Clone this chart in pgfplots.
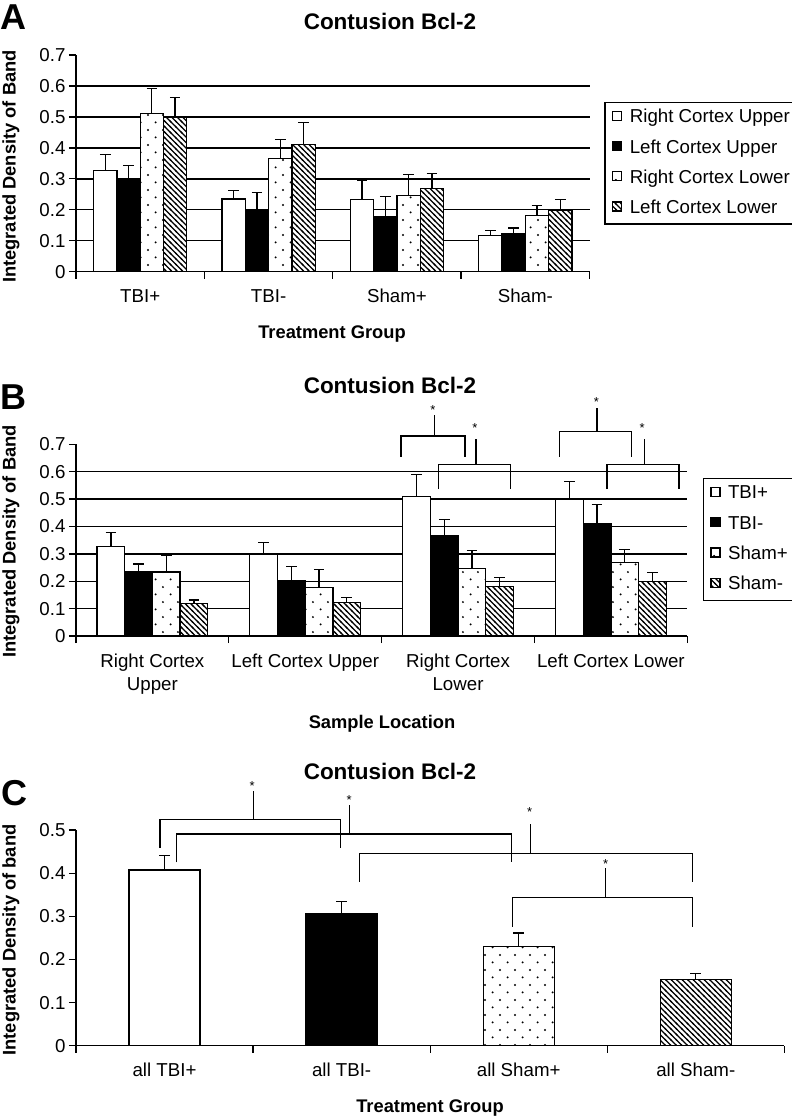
\documentclass[border=0pt]{standalone}
\usepackage{fontspec}
\setmainfont{Liberation Sans}
\usepackage{pgfplots}
\pgfplotsset{compat=1.18}
\usetikzlibrary{patterns}

\pgfdeclarepatternformonly{sparsedots}{\pgfqpoint{0bp}{0bp}}{\pgfqpoint{15.3bp}{15.3bp}}{\pgfqpoint{15.3bp}{15.3bp}}{%
  \pgfpathcircle{\pgfqpoint{3.8bp}{3.8bp}}{1.1bp}%
  \pgfpathcircle{\pgfqpoint{11.45bp}{11.45bp}}{1.1bp}%
  \pgfusepath{fill}}
\pgfdeclarepatternformonly{hatchnw}{\pgfqpoint{-1bp}{-1bp}}{\pgfqpoint{6.5bp}{6.5bp}}{\pgfqpoint{5.5bp}{5.5bp}}{%
  \pgfsetlinewidth{1.1bp}%
  \pgfpathmoveto{\pgfqpoint{-1bp}{6.5bp}}%
  \pgfpathlineto{\pgfqpoint{6.5bp}{-1bp}}%
  \pgfusepath{stroke}}

\newcommand\tfont{\fontsize{18.7bp}{23.3bp}\selectfont}
\newcommand\titlefont{\fontsize{22.5bp}{27bp}\selectfont\bfseries}
\newcommand\labfont{\fontsize{18.3bp}{22bp}\selectfont\bfseries}
\newcommand\letterfont{\fontsize{36bp}{40bp}\selectfont\bfseries}
\newcommand\starfont{\fontsize{13bp}{15bp}\selectfont}

\tikzset{
  brk/.style={line width=1.3bp, black},
  star/.style={font=\starfont, anchor=base, yshift=-7.5bp, inner sep=0},
}

\pgfplotsset{
  bcl/.style={
    scale only axis, axis lines*=left,
    axis line style={line width=1.4bp},
    xmin=-0.5, xmax=3.5, ymin=0,
    tick align=outside, major tick length=7bp, minor tick length=7bp,
    tick style={black, line width=1.3bp},
    xtick={0,1,2,3}, minor xtick={-0.5,0.5,1.5,2.5,3.5},
    major x tick style={draw=none},
    ticklabel style={font=\tfont},
    xticklabel style={yshift=-7bp, align=center},
    yticklabel style={/pgf/number format/fixed, /pgf/number format/precision=1},
    /pgf/number format/assume math mode=true,
    ybar=0pt,
    clip=false,
    error bars/y dir=plus, error bars/y explicit,
    error bars/error mark options={rotate=90, mark size=5.3bp, line width=1.3bp, black},
    error bars/error bar style={line width=1.3bp, black},
    legend cell align=left,
    legend style={draw=black, line width=1.3bp, font=\tfont, inner xsep=7bp, inner ysep=5bp,
      row sep=9.3bp, column sep=5.5bp,
      nodes={inner sep=2bp, text height=13.5bp, text depth=3.5bp}, anchor=north west},
  },
  gridA/.style={
    ytick={0,0.1,0.2,0.3,0.4,0.5,0.6,0.7},
    extra y ticks={0.1,0.2,0.3,0.4,0.5,0.6}, extra y tick labels={},
    extra y tick style={grid=major, major tick length=0pt, grid style={black, line width=1.4bp}},
  },
  sqleg/.style={legend image code/.code={\draw[##1] (0bp,-2.5bp) rectangle (9bp,6.5bp);}},
  s1/.style={draw=black, line width=1.3bp, fill=white, sqleg},
  s2/.style={draw=black, line width=1.3bp, fill=black, sqleg},
  s3/.style={draw=black, line width=1.3bp, fill=white, postaction={pattern=sparsedots}, sqleg},
  s4/.style={draw=black, line width=1.3bp, fill=white, postaction={pattern=hatchnw}, sqleg},
}

\begin{document}
\begin{tikzpicture}
\useasboundingbox (0,0) rectangle (792bp,-1117bp);

% ---------------- Panel A ----------------
\begin{axis}[bcl, gridA, at={(76bp,-271.7bp)}, anchor=south west,
  width=513.5bp, height=216.7bp, ymax=0.7, bar width=23.3bp,
  xticklabels={TBI+, TBI-, Sham+, Sham-},
  legend style={at={(1.029,0.785)}}]
\addplot[s1] coordinates {(0,0.326) +- (0,0.053) (1,0.235) +- (0,0.028) (2,0.234) +- (0,0.062) (3,0.118) +- (0,0.014)};
\addplot[s2] coordinates {(0,0.299) +- (0,0.043) (1,0.202) +- (0,0.053) (2,0.177) +- (0,0.065) (3,0.123) +- (0,0.018)};
\addplot[s3] coordinates {(0,0.510) +- (0,0.081) (1,0.365) +- (0,0.061) (2,0.246) +- (0,0.067) (3,0.182) +- (0,0.031)};
\addplot[s4] coordinates {(0,0.498) +- (0,0.065) (1,0.412) +- (0,0.069) (2,0.268) +- (0,0.049) (3,0.199) +- (0,0.034)};
\legend{Right Cortex Upper, Left Cortex Upper, Right Cortex Lower, Left Cortex Lower}
\end{axis}

% ---------------- Panel B ----------------
\begin{axis}[bcl, gridA, at={(76bp,-636bp)}, anchor=south west,
  width=611.3bp, height=191.7bp, ymax=0.7, bar width=27.7bp,
  xticklabels={{Right Cortex\\Upper}, {Left Cortex Upper}, {Right Cortex\\Lower}, {Left Cortex Lower}},
  legend style={at={(1.025,0.826)}}]
\addplot[s1] coordinates {(0,0.326) +- (0,0.053) (1,0.299) +- (0,0.043) (2,0.510) +- (0,0.081) (3,0.498) +- (0,0.065)};
\addplot[s2] coordinates {(0,0.235) +- (0,0.028) (1,0.202) +- (0,0.053) (2,0.365) +- (0,0.061) (3,0.412) +- (0,0.069)};
\addplot[s3] coordinates {(0,0.234) +- (0,0.062) (1,0.177) +- (0,0.065) (2,0.246) +- (0,0.067) (3,0.268) +- (0,0.049)};
\addplot[s4] coordinates {(0,0.118) +- (0,0.014) (1,0.123) +- (0,0.018) (2,0.182) +- (0,0.031) (3,0.199) +- (0,0.034)};
\legend{TBI+, TBI-, Sham+, Sham-}
\draw[brk] (1.627,0.655) -- (1.627,0.730) -- (2.046,0.730) -- (2.046,0.655);
\draw[brk] (1.845,0.730) -- (1.845,0.807);
\node[star] at (1.835,0.837) {*};
\draw[brk] (1.874,0.536) -- (1.874,0.627) -- (2.345,0.627) -- (2.345,0.536);
\draw[brk] (2.118,0.627) -- (2.118,0.721);
\node[star] at (2.110,0.771) {*};
\draw[brk] (2.663,0.655) -- (2.663,0.746) -- (3.137,0.746) -- (3.137,0.655);
\draw[brk] (2.910,0.746) -- (2.910,0.834);
\node[star] at (2.905,0.864) {*};
\draw[brk] (2.975,0.536) -- (2.975,0.627) -- (3.446,0.627) -- (3.446,0.536);
\draw[brk] (3.219,0.627) -- (3.219,0.718);
\node[star] at (3.205,0.771) {*};
\end{axis}

% ---------------- Panel C ----------------
\begin{axis}[bcl, at={(76bp,-1045.7bp)}, anchor=south west,
  width=708.3bp, height=215.7bp, ymax=0.5, bar width=71bp,
  ytick={0,0.1,0.2,0.3,0.4,0.5},
  xticklabels={all TBI+, all TBI-, all Sham+, all Sham-}]
\addplot[s1, bar shift=0pt] coordinates {(0,0.407) +- (0,0.034)};
\addplot[s2, bar shift=0pt] coordinates {(1,0.305) +- (0,0.029)};
\addplot[s3, bar shift=0pt] coordinates {(2,0.230) +- (0,0.031)};
\addplot[s4, bar shift=0pt] coordinates {(3,0.154) +- (0,0.013)};
\draw[brk] (-0.026,0.459) -- (-0.026,0.525) -- (0.995,0.525) -- (0.995,0.459);
\draw[brk] (0.501,0.525) -- (0.501,0.591);
\node[star] at (0.495,0.610) {*};
\draw[brk] (0.069,0.425) -- (0.069,0.491) -- (1.960,0.491) -- (1.960,0.427);
\draw[brk] (1.043,0.491) -- (1.043,0.557);
\node[star] at (1.043,0.576) {*};
\draw[brk] (1.100,0.380) -- (1.100,0.446) -- (2.982,0.446) -- (2.982,0.380);
\draw[brk] (2.067,0.446) -- (2.067,0.513);
\node[star] at (2.062,0.549) {*};
\draw[brk] (1.964,0.276) -- (1.964,0.344) -- (2.982,0.344) -- (2.982,0.276);
\draw[brk] (2.491,0.344) -- (2.491,0.411);
\node[star] at (2.491,0.429) {*};
\end{axis}

% ---------------- Texts ----------------
\node[anchor=base west, inner sep=0, font=\letterfont] at (0bp,-29.3bp) {A};
\node[anchor=base west, inner sep=0, font=\letterfont] at (0bp,-409.3bp) {B};
\node[anchor=base west, inner sep=0, font=\letterfont] at (1bp,-805.5bp) {C};

\node[anchor=base, inner sep=0, font=\titlefont] at (390bp,-29bp) {Contusion Bcl-2};
\node[anchor=base, inner sep=0, font=\titlefont] at (390bp,-393.3bp) {Contusion Bcl-2};
\node[anchor=base, inner sep=0, font=\titlefont] at (390bp,-779bp) {Contusion Bcl-2};

\node[anchor=base, inner sep=0, rotate=90, font=\labfont] at (15.5bp,-166.5bp) {Integrated Density of Band};
\node[anchor=base, inner sep=0, rotate=90, font=\labfont] at (15.5bp,-541.5bp) {Integrated Density of Band};
\node[anchor=base, inner sep=0, rotate=90, font=\labfont] at (15.5bp,-940bp) {Integrated Density of band};

\node[anchor=base, inner sep=0, font=\labfont] at (332bp,-338bp) {Treatment Group};
\node[anchor=base, inner sep=0, font=\labfont] at (382bp,-728bp) {Sample Location};
\node[anchor=base, inner sep=0, font=\labfont] at (430bp,-1112.7bp) {Treatment Group};
\end{tikzpicture}
\end{document}
